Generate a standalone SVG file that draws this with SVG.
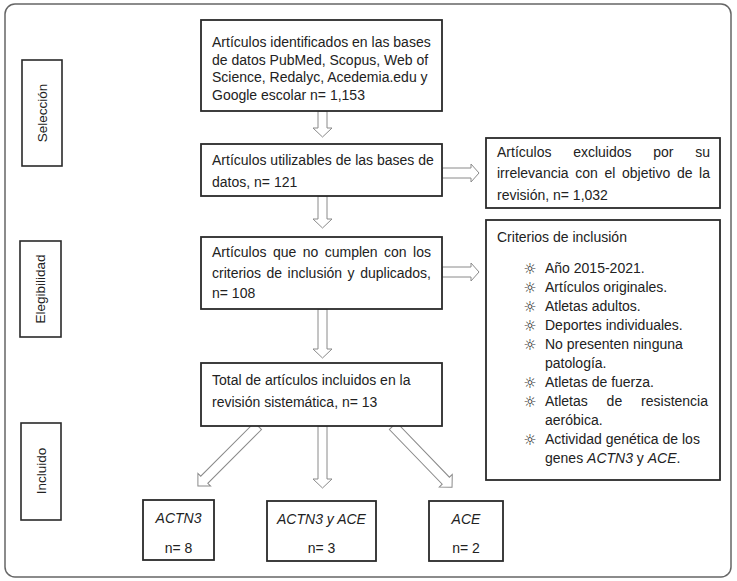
<svg xmlns="http://www.w3.org/2000/svg" width="737" height="581" viewBox="0 0 737 581">
<style>
.box{fill:#fff;stroke:#2a2a2a;stroke-width:1.8}
.lbl{fill:#fff;stroke:#2a2a2a;stroke-width:1.6}
.t{font-family:"Liberation Sans",Arial,sans-serif;font-size:14px;fill:#222}
.v{font-family:"Liberation Sans",Arial,sans-serif;font-size:13.5px;fill:#222}
.i{font-style:italic}
.arr{fill:#fff;stroke:#8a8a8a;stroke-width:1}
.b{font-family:"DejaVu Sans",sans-serif;font-size:15px;fill:#222}
</style>
<rect x="5" y="4" width="726" height="573" rx="10" fill="#fff" stroke="#666" stroke-width="1.5"/>

<g id="sel">
<rect class="lbl" x="22" y="60" width="40" height="106"/>
<text class="v" transform="translate(46.5,113) rotate(-90)" text-anchor="middle">Selección</text>
</g>
<g id="eleg">
<rect class="lbl" x="20" y="241" width="41" height="96"/>
<text class="v" transform="translate(45,289) rotate(-90)" text-anchor="middle">Elegibilidad</text>
</g>
<g id="incl">
<rect class="lbl" x="21" y="423" width="40" height="97"/>
<text class="v" transform="translate(45.5,471) rotate(-90)" text-anchor="middle">Incluido</text>
</g>

<g id="connectors">
<polygon class="arr" points="318,111 327,111 327,128 332,128 322.5,137 313,128 318,128"/>
<polygon class="arr" points="318,196 327,196 327,219 332,219 322.5,228 313,219 318,219"/>
<polygon class="arr" points="318,309 327,309 327,349 332,349 322.5,358 313,349 318,349"/>
<polygon class="arr" points="318,426 327,426 327,479 332,479 322.5,488 313,479 318,479"/>
<polygon class="arr" points="442,168 471,168 471,164 479,173 471,182 471,178 442,178"/>
<polygon class="arr" points="442,267 471,267 471,263 479,272 471,281 471,277 442,277"/>
<polygon class="arr" transform="translate(258,426) rotate(45)" points="-5,0 5,0 5,76 9,76 0,85 -9,76 -5,76"/>
<polygon class="arr" transform="translate(393,426) rotate(-44)" points="-5,0 5,0 5,76 9,76 0,85 -9,76 -5,76"/>
</g>

<g id="n1">
<rect class="box" x="201" y="20" width="241" height="91"/>
<text class="t" x="212" y="47">Artículos identificados en las bases</text>
<text class="t" x="212" y="64.5">de datos PubMed, Scopus, Web of</text>
<text class="t" x="212" y="82">Science, Redalyc, Acedemia.edu y</text>
<text class="t" x="212" y="99.5">Google escolar n= 1,153</text>
</g>
<g id="n2">
<rect class="box" x="201" y="144" width="241" height="52"/>
<text class="t" x="212" y="165">Artículos utilizables de las bases de</text>
<text class="t" x="212" y="187">datos, n= 121</text>
</g>
<g id="n3">
<rect class="box" x="201" y="237" width="241" height="72"/>
<text class="t" x="212" y="257">Artículos</text><text class="t" x="272.9" y="257">que</text><text class="t" x="302.7" y="257">no</text><text class="t" x="324.7" y="257">cumplen</text><text class="t" x="384" y="257">con</text><text class="t" x="431" y="257" text-anchor="end">los</text>
<text class="t" x="212" y="278">criterios</text><text class="t" x="266.5" y="278">de</text><text class="t" x="287.6" y="278">inclusión</text><text class="t" x="347.6" y="278">y</text><text class="t" x="431" y="278" text-anchor="end">duplicados,</text>
<text class="t" x="212" y="298">n= 108</text>
</g>
<g id="n4">
<rect class="box" x="201" y="363" width="241" height="63"/>
<text class="t" x="212" y="385">Total de artículos incluidos en la</text>
<text class="t" x="212" y="407">revisión sistemática, n= 13</text>
</g>
<g id="excl">
<rect class="box" x="486" y="138" width="234" height="70"/>
<text class="t" x="497" y="157">Artículos</text><text class="t" x="573.2" y="157">excluidos</text><text class="t" x="653.3" y="157">por</text><text class="t" x="710" y="157" text-anchor="end">su</text>
<text class="t" x="497" y="178">irrelevancia</text><text class="t" x="575.2" y="178">con</text><text class="t" x="604.5" y="178">el</text><text class="t" x="622" y="178">objetivo</text><text class="t" x="676.9" y="178">de</text><text class="t" x="710" y="178" text-anchor="end">la</text>
<text class="t" x="497" y="200">revisión, n= 1,032</text>
</g>
<g id="crit">
<rect class="box" x="486" y="220" width="234" height="260"/>
<text class="t" x="497" y="242">Criterios de inclusión</text>
<text class="b" x="530" y="274" text-anchor="middle">☼</text><text class="t" x="545" y="273">Año 2015-2021.</text>
<text class="b" x="530" y="293" text-anchor="middle">☼</text><text class="t" x="545" y="292">Artículos originales.</text>
<text class="b" x="530" y="312" text-anchor="middle">☼</text><text class="t" x="545" y="311">Atletas adultos.</text>
<text class="b" x="530" y="331" text-anchor="middle">☼</text><text class="t" x="545" y="330">Deportes individuales.</text>
<text class="b" x="530" y="350" text-anchor="middle">☼</text><text class="t" x="545" y="349">No presenten ninguna</text>
<text class="t" x="545" y="368">patología.</text>
<text class="b" x="530" y="388" text-anchor="middle">☼</text><text class="t" x="545" y="387">Atletas de fuerza.</text>
<text class="b" x="530" y="407" text-anchor="middle">☼</text><text class="t" x="545" y="406">Atletas</text><text class="t" x="606.6" y="406">de</text><text class="t" x="708" y="406" text-anchor="end">resistencia</text>
<text class="t" x="545" y="425">aeróbica.</text>
<text class="b" x="530" y="445" text-anchor="middle">☼</text><text class="t" x="545" y="444">Actividad genética de los</text>
<text class="t" x="545" y="463">genes <tspan class="i">ACTN3</tspan> y <tspan class="i">ACE</tspan>.</text>
</g>

<g id="l1">
<rect class="box" x="143" y="500" width="71" height="60"/>
<text class="t i" x="178.5" y="523" text-anchor="middle">ACTN3</text>
<text class="t" x="178.5" y="553" text-anchor="middle">n= 8</text>
</g>
<g id="l2">
<rect class="box" x="267" y="501" width="109" height="60"/>
<text class="t i" x="321.5" y="524" text-anchor="middle">ACTN3 y ACE</text>
<text class="t" x="321.5" y="553" text-anchor="middle">n= 3</text>
</g>
<g id="l3">
<rect class="box" x="429" y="501" width="74" height="60"/>
<text class="t i" x="466" y="524" text-anchor="middle">ACE</text>
<text class="t" x="466" y="553" text-anchor="middle">n= 2</text>
</g>
</svg>
